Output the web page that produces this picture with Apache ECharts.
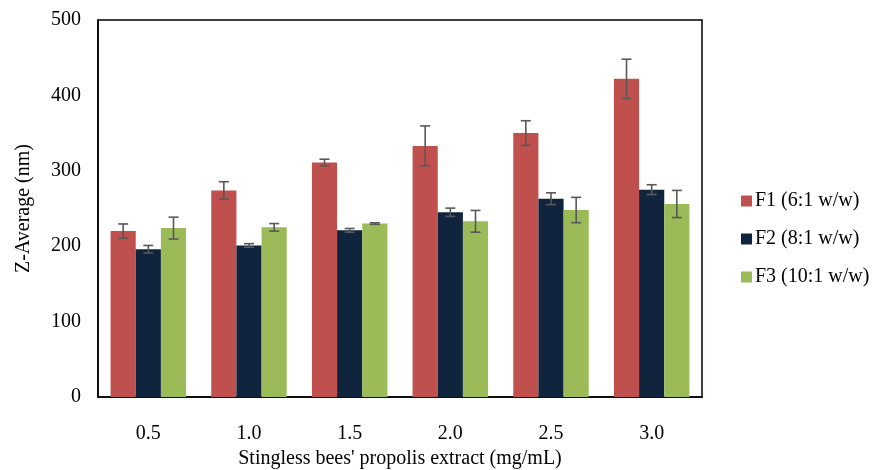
<!DOCTYPE html>
<html>
<head>
<meta charset="utf-8">
<script src="https://cdn.jsdelivr.net/npm/echarts@6/dist/echarts.min.js"></script>
<style>html,body{margin:0;padding:0;background:#fff}#c{width:880px;height:470px}</style>
</head>
<body>
<div id="c"></div>
<script>
const categories = ['0.5', '1.0', '1.5', '2.0', '2.5', '3.0'];
const seriesNames = ['F1 (6:1 w/w)', 'F2 (8:1 w/w)', 'F3 (10:1 w/w)'];
const f1 = [220, 274, 311, 333, 350, 422];
const f2 = [196, 201, 221, 245, 263, 275];
const f3 = [224, 225, 230, 233, 248, 256];
const f1Err = [9.5, 11.5, 4.4, 26.5, 16.4, 26];
const f2Err = [5, 2.4, 2.5, 5.5, 7.8, 6.5];
const f3Err = [14.5, 5, 1, 14.4, 16.8, 18];
const yTicks = [0, 100, 200, 300, 400, 500];

const colors = ['#C0504D', '#10243E', '#9BBB59'];
const values = [f1, f2, f3];
const errs = [f1Err, f2Err, f3Err];
const font = 'Liberation Serif, Times New Roman, serif';
const catGap = 0.25;
const fs = 20;

function errRenderer(si) {
  return function (params, api) {
    const ci = api.value(0);
    const v = api.value(1);
    const e = api.value(2);
    const band = api.size([1, 0])[0];
    const barW = band * (1 - catGap) / 3;
    const center = api.coord([ci, v]);
    const x = center[0] - band * (1 - catGap) / 2 + barW * (si + 0.5);
    const yHi = api.coord([ci, v + e])[1];
    const yLo = api.coord([ci, v - e])[1];
    const cap = 5;
    const style = { stroke: '#595959', lineWidth: 1.6 };
    return {
      type: 'group',
      children: [
        { type: 'line', shape: { x1: x, y1: yHi, x2: x, y2: yLo }, style },
        { type: 'line', shape: { x1: x - cap, y1: yHi, x2: x + cap, y2: yHi }, style },
        { type: 'line', shape: { x1: x - cap, y1: yLo, x2: x + cap, y2: yLo }, style }
      ]
    };
  };
}

const series = [];
for (let i = 0; i < 3; i++) {
  series.push({
    name: seriesNames[i],
    type: 'bar',
    data: values[i],
    barGap: '0%',
    barCategoryGap: (catGap * 100) + '%',
    itemStyle: { color: colors[i] },
    z: 2
  });
}
for (let i = 0; i < 3; i++) {
  series.push({
    type: 'custom',
    name: 'err' + i,
    renderItem: errRenderer(i),
    data: categories.map((c, k) => [k, values[i][k], errs[i][k]]),
    encode: { x: 0, y: 1 },
    z: 5,
    silent: true
  });
}

const chart = echarts.init(document.getElementById('c'), null, { renderer: 'canvas' });
chart.setOption({
  animation: false,
  backgroundColor: '#fff',
  textStyle: { fontFamily: font },
  grid: {
    left: 98, right: 178, top: 20, bottom: 73,
    outerBoundsMode: 'none',
    containLabel: false,
    show: true, borderColor: '#000', borderWidth: 1.5, backgroundColor: 'transparent'
  },
  legend: {
    data: seriesNames,
    orient: 'vertical',
    left: 736, top: 186,
    itemWidth: 11, itemHeight: 11, itemGap: 18,
    icon: 'rect',
    textStyle: { fontFamily: font, fontSize: fs, color: '#000', padding: [0, 0, 0, -2] }
  },
  xAxis: {
    type: 'category',
    data: categories,
    axisLine: { show: true, lineStyle: { color: '#000', width: 1.5 } },
    axisTick: { show: false },
    axisLabel: { fontFamily: font, fontSize: fs, color: '#000', margin: 27 },
    name: "Stingless bees' propolis extract (mg/mL)",
    nameLocation: 'middle',
    nameGap: 47,
    nameTextStyle: { fontFamily: font, fontSize: fs, color: '#000' }
  },
  yAxis: {
    type: 'value',
    min: yTicks[0], max: yTicks[yTicks.length - 1], interval: 100,
    splitLine: { show: false },
    axisLine: { show: true, lineStyle: { color: '#000', width: 1.5 } },
    axisTick: { show: false },
    axisLabel: { fontFamily: font, fontSize: fs, color: '#000', margin: 17 },
    name: 'Z-Average (nm)',
    nameLocation: 'middle',
    nameGap: 64,
    nameTextStyle: { fontFamily: font, fontSize: fs, color: '#000' }
  },
  series
});
</script>
</body>
</html>
